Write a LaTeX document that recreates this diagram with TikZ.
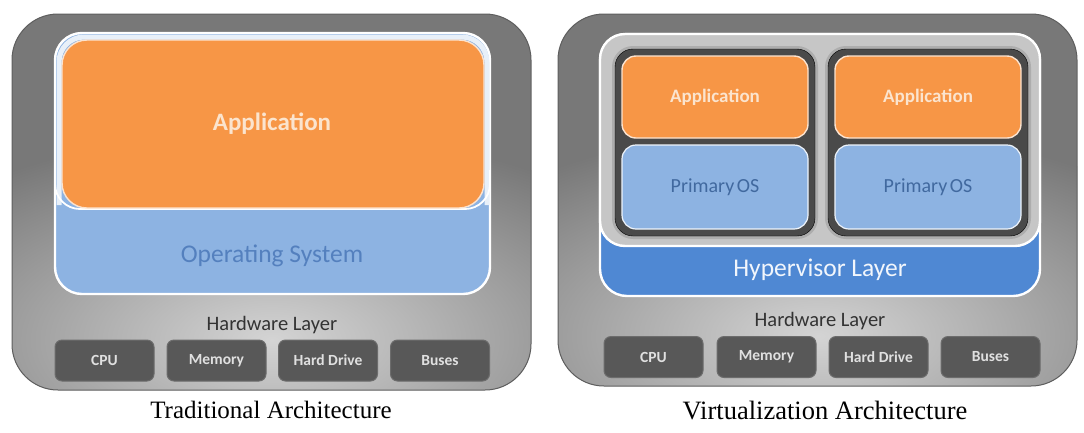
\documentclass[tikz,border=0pt]{standalone}
\usepackage{fontspec}
\setmainfont{Liberation Serif}
\newfontfamily\uifont{Carlito}

\definecolor{panelGray}{HTML}{787878}
\definecolor{panelEdge}{HTML}{5E5E5E}
\definecolor{panelGlow}{HTML}{D4D4D4}
\definecolor{appOrange}{HTML}{F79646}
\definecolor{appRim}{HTML}{FCE3CF}
\definecolor{appText}{HTML}{FBE4CE}
\definecolor{osBlue}{HTML}{8DB3E2}
\definecolor{osText}{HTML}{5480BE}
\definecolor{posText}{HTML}{41699F}
\definecolor{hypBlue}{HTML}{4F88D3}
\definecolor{hypText}{HTML}{F2F6FC}
\definecolor{vmGray}{HTML}{C6C6C6}
\definecolor{vmFrame}{HTML}{4A4A4A}
\definecolor{hwFill}{HTML}{585858}
\definecolor{hwEdge}{HTML}{6C6C6C}
\definecolor{hwText}{HTML}{E0E0E0}
\definecolor{hwLabel}{HTML}{333333}

\begin{document}
\begin{tikzpicture}[x=1pt,y=-1pt,
  panelbox/.style={draw=panelEdge, line width=1pt, rounded corners=46pt},
  framebox/.style={draw=white, line width=2.4pt, rounded corners=27pt},
  appbox/.style={fill=appOrange, draw=appRim, line width=1.4pt},
  osbox/.style={fill=osBlue, draw=white!85!osBlue, line width=1.2pt, rounded corners=14pt},
  vmbox/.style={fill=vmFrame, rounded corners=18pt},
  hwbox/.style={fill=hwFill, draw=hwEdge, line width=1pt, rounded corners=7pt,
    minimum width=99pt, minimum height=41pt, inner sep=0pt,
    text=hwText, font=\uifont\bfseries\fontsize{15.5}{18}\selectfont},
  hwlabel/.style={text=hwLabel, font=\uifont\fontsize{20.5}{24}\selectfont},
  bigapp/.style={text=appText, font=\uifont\bfseries\fontsize{25}{30}\selectfont},
  smallapp/.style={text=appText, font=\uifont\bfseries\fontsize{19}{22}\selectfont},
  ostext/.style={text=osText, font=\uifont\fontsize{25.5}{30}\selectfont},
  postext/.style={text=posText, font=\uifont\fontsize{20}{23}\selectfont},
  hyptext/.style={text=hypText, font=\uifont\fontsize{25.5}{30}\selectfont},
  caption/.style={text=black, font=\fontsize{25}{30}\selectfont}
]
\useasboundingbox (0,0) rectangle (1084,432);
\fill[white] (0,0) rectangle (1084,432);

% ---------- Traditional architecture ----------
\begin{scope}
  \clip[rounded corners=46pt] (12,14) rectangle (531,390);
  \fill[panelGray] (12,14) rectangle (531,390);
  \shade[inner color=panelGlow, outer color=panelGray] (272,340) ellipse (440 and 210);
\end{scope}
\draw[panelbox] (12,14) rectangle (531,390);

\draw[framebox, fill=osBlue] (55,33) rectangle (490,294);
% light band between the frame and the application layer
\draw[white!80!osBlue, line width=5pt, rounded corners=25pt] (59,205) -- (59,37) -- (487,37) -- (487,205);
\draw[white, line width=1.8pt, rounded corners=25pt] (55,170) -- (55,209) -- (490,209) -- (490,170);
\draw[appbox, rounded corners=25pt] (62,40) rectangle (484,208);

\node[bigapp] (appL) at (272,124) {Application};
\node[ostext] (osL) at (272,256) {Operating System};
\node[hwlabel] (hwL) at (272,325) {Hardware Layer};

\node[hwbox] (cpuL) at (104.5,360.5) {CPU};
\node[hwbox] (memL) at (216.5,360.5) {Memory};
\node[hwbox] (hddL) at (328,360.5) {Hard Drive};
\node[hwbox] (busL) at (440,360.5) {Buses};

\node[caption] (capL) at (271,410) {Traditional Architecture};

% ---------- Virtualization architecture ----------
\begin{scope}
  \clip[rounded corners=46pt] (558,14) rectangle (1077,386);
  \fill[panelGray] (558,14) rectangle (1077,386);
  \shade[inner color=panelGlow, outer color=panelGray] (818,336) ellipse (440 and 210);
\end{scope}
\draw[panelbox] (558,14) rectangle (1077,386);

\draw[framebox, fill=hypBlue] (600,34) rectangle (1040,296);
\draw[framebox, fill=vmGray, rounded corners=25pt] (600,34) rectangle (1040,246);

% virtual machines: soft edge, dark frame, application and OS layers
\foreach \x in {615,828}{
  \draw[black, opacity=0.12, line width=6pt, rounded corners=18pt] (\x,49) rectangle (\x+200,236);
  \draw[vmbox] (\x,49) rectangle (\x+200,236);
  \draw[appbox, rounded corners=14pt] (\x+7,56) rectangle (\x+193,138);
  \draw[osbox] (\x+7,145) rectangle (\x+193,229);
}

\node[smallapp] (appA) at (715,97) {Application};
\node[postext] (osA) at (715,187) {Primary\kern-0.1em\ OS};
\node[smallapp] (appB) at (928,97) {Application};
\node[postext] (osB) at (928,187) {Primary\kern-0.1em\ OS};

\node[hyptext] (hyp) at (820,270) {Hypervisor Layer};
\node[hwlabel] (hwR) at (820,321) {Hardware Layer};

\node[hwbox] (cpuR) at (653.5,357) {CPU};
\node[hwbox] (memR) at (766.5,357) {Memory};
\node[hwbox] (hddR) at (878.5,357) {Hard Drive};
\node[hwbox] (busR) at (990.5,357) {Buses};

\node[caption, font=\fontsize{26.5}{30}\selectfont] (capR) at (825,410) {Virtualization Architecture};
\end{tikzpicture}
\end{document}
